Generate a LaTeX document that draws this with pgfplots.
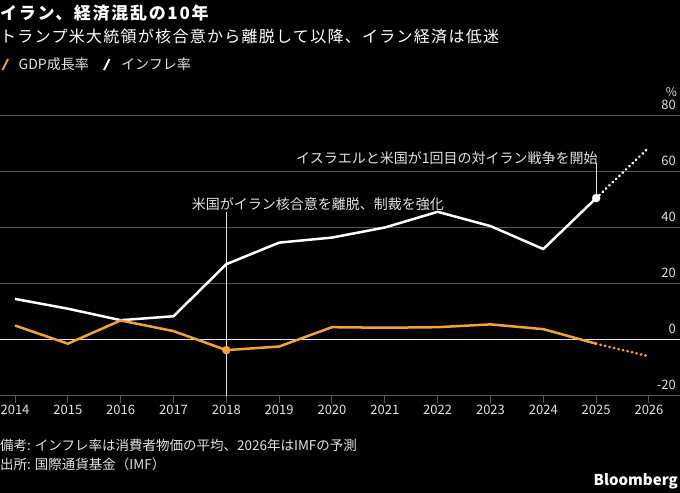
\documentclass[border=0pt]{standalone}
\usepackage{fontspec}
\usepackage{pgfplots}
\pgfplotsset{compat=1.18}
\setmainfont{Noto Sans CJK JP}
\newfontfamily\titlefont[LetterSpace=10]{Noto Sans CJK JP}
\newfontfamily\subfont[LetterSpace=8]{Noto Sans CJK JP}
\definecolor{gdporange}{HTML}{F4A236}
\definecolor{gridgray}{HTML}{555555}
\definecolor{txt}{HTML}{E2E2E2}
\begin{document}
\begin{tikzpicture}
\useasboundingbox (0bp,0bp) rectangle (680bp,-493bp);
\fill[black] (0bp,0bp) rectangle (680bp,-493bp);
% header
\node[anchor=west, inner sep=0pt, text=white] at (0bp,-13.5bp) {\titlefont\bfseries\fontsize{17bp}{20bp}\selectfont イラン、経済混乱の10年};
\node[anchor=west, inner sep=0pt, text=white] at (0bp,-36.5bp) {\subfont\fontsize{16bp}{19bp}\selectfont トランプ米大統領が核合意から離脱して以降、イラン経済は低迷};
% legend
\draw[gdporange, line width=2bp] (2.5bp,-70bp) -- (8bp,-59bp);
\node[anchor=west, inner sep=0pt, text=txt] at (18.5bp,-64.5bp) {\fontsize{14bp}{16bp}\selectfont GDP成長率};
\draw[white, line width=2bp] (104bp,-70bp) -- (109.5bp,-59bp);
\node[anchor=west, inner sep=0pt, text=txt] at (121bp,-64.5bp) {\fontsize{14bp}{16bp}\selectfont インフレ率};
% footer
\node[anchor=west, inner sep=0pt, text=txt] at (0bp,-445bp) {\fontsize{13.5bp}{16bp}\selectfont 備考: インフレ率は消費者物価の平均、2026年はIMFの予測};
\node[anchor=west, inner sep=0pt, text=txt] at (0bp,-464.5bp) {\fontsize{13.5bp}{16bp}\selectfont 出所: 国際通貨基金（IMF）};
\node[anchor=east, inner sep=0pt, text=white] at (678bp,-481bp) {\bfseries\fontsize{15bp}{18bp}\selectfont Bloomberg};
\begin{axis}[
  at={(0bp,-395.5bp)}, anchor=south west,
  width=680bp, height=280bp, scale only axis,
  xmin=2013.716, xmax=2026.587, ymin=-20, ymax=80,
  xtick={2014,2015,2016,2017,2018,2019,2020,2021,2022,2023,2024,2025,2026},
  xticklabels={2014,2015,2016,2017,2018,2019,2020,2021,2022,2023,2024,2025,2026},
  ytick={-20,0,20,40,60,80},
  yticklabels={-20,0,20,40,60,80},
  xtick pos=lower, ytick pos=right,
  tick align=outside, major tick length=7bp,
  x tick style={draw=gridgray, line width=1bp},
  y tick style={draw=none},
  axis line style={draw=none},
  ymajorgrids=true, xmajorgrids=false,
  major grid style={draw=gridgray, line width=1bp},
  xticklabel style={text=txt, font=\fontsize{13bp}{15bp}\selectfont, anchor=north, inner sep=0pt, yshift=-2bp},
  yticklabel style={text=txt, font=\fontsize{13bp}{15bp}\selectfont, anchor=base east, inner sep=0pt, xshift=-11bp, yshift=6bp},
  clip=false,
]
\draw[txt, line width=1.2bp] (axis cs:2013.716,0) -- (axis cs:2026.587,0);
\draw[txt, line width=0.8bp] (axis cs:2018,-20) -- (axis cs:2018,45.5);
\draw[txt, line width=0.8bp] (axis cs:2025,50.5) -- (axis cs:2025,63.0);
% inflation
\addplot[white, line width=2.5bp, line join=round] coordinates {
(2014,14.5) (2015,11.0) (2016,6.9) (2017,8.3) (2018,26.9) (2019,34.6) (2020,36.4)
(2021,40.0) (2022,45.6) (2023,40.5) (2024,32.3) (2025,50.5)};
\addplot[white, line width=3bp, line cap=round, dash pattern=on 0.01bp off 4.6bp] coordinates {
(2025,50.5) (2026,68.6)};
% gdp
\addplot[gdporange, line width=2.5bp, line join=round] coordinates {
(2014,5.0) (2015,-1.5) (2016,6.8) (2017,3.0) (2018,-3.8) (2019,-2.5) (2020,4.4)
(2021,4.2) (2022,4.4) (2023,5.4) (2024,3.7) (2025,-1.5)};
\addplot[gdporange, line width=3bp, line cap=round, dash pattern=on 0.01bp off 4.6bp] coordinates {
(2025,-1.5) (2026,-6.0)};
% markers
\addplot[only marks, mark=*, mark size=4bp, gdporange] coordinates {(2018,-3.8)};
\addplot[only marks, mark=*, mark size=4bp, white] coordinates {(2025,50.5)};
% annotations
\node[text=txt, inner sep=0pt, font=\fontsize{14bp}{16bp}\selectfont] at (axis cs:2019.735,48.4) {米国がイラン核合意を離脱、制裁を強化};
\node[text=txt, inner sep=0pt, anchor=east, font=\fontsize{14bp}{16bp}\selectfont] at (axis cs:2025.03,64.8) {イスラエルと米国が1回目の対イラン戦争を開始};
\node[text=txt, inner sep=0pt, anchor=base east, font=\fontsize{12bp}{14bp}\selectfont] at (axis cs:2026.587,80) [xshift=-3bp, yshift=19bp] {\%};
\end{axis}
\end{tikzpicture}
\end{document}
